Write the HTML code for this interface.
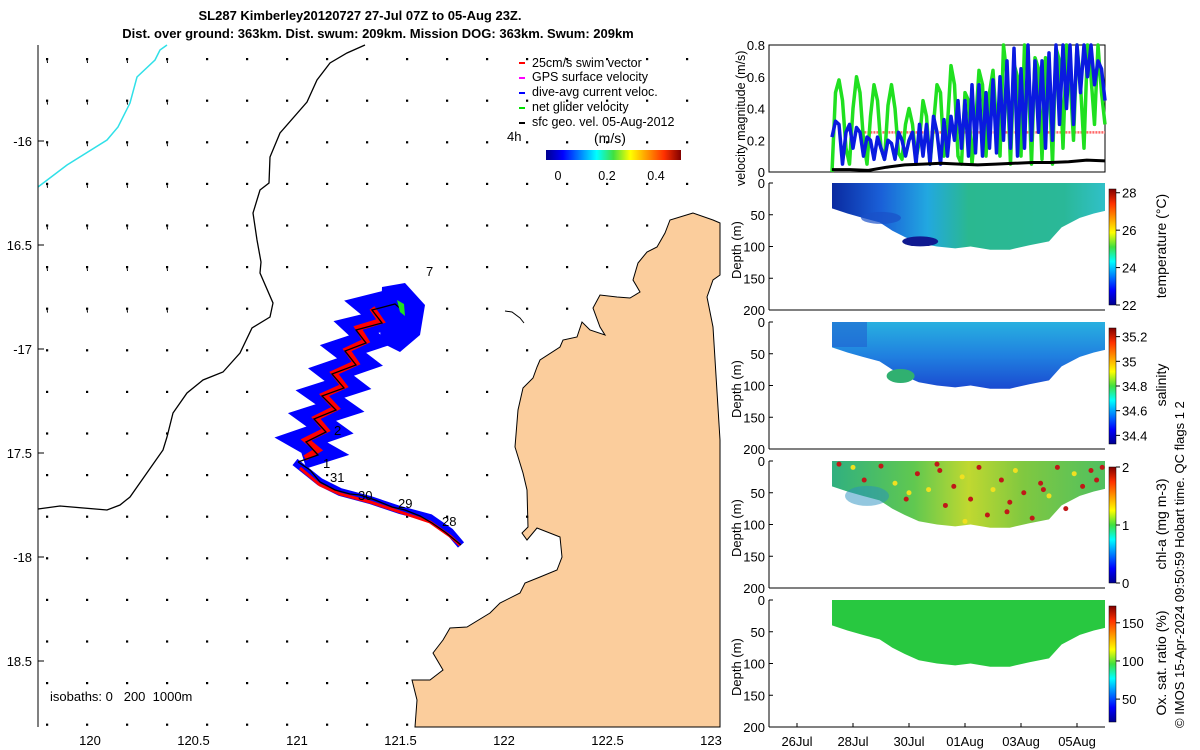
<!DOCTYPE html>
<html><head><meta charset="utf-8"><style>
body{margin:0;background:#fff;}
svg{display:block;font-family:"Liberation Sans",sans-serif;}
</style></head><body>
<svg id="s" width="1200" height="750" viewBox="0 0 1200 750">
<defs>
<linearGradient id="jetH" x1="0" x2="1" y1="0" y2="0">
<stop offset="0" stop-color="#00008f"/><stop offset="0.125" stop-color="#0000ff"/><stop offset="0.375" stop-color="#00ffff"/><stop offset="0.5" stop-color="#40e040"/><stop offset="0.625" stop-color="#ffff00"/><stop offset="0.875" stop-color="#ff3000"/><stop offset="1" stop-color="#800000"/></linearGradient>
<linearGradient id="jetV" x1="0" x2="0" y1="1" y2="0">
<stop offset="0" stop-color="#00008f"/><stop offset="0.125" stop-color="#0000ff"/><stop offset="0.375" stop-color="#00ffff"/><stop offset="0.5" stop-color="#40e040"/><stop offset="0.625" stop-color="#ffff00"/><stop offset="0.875" stop-color="#ff3000"/><stop offset="1" stop-color="#800000"/></linearGradient>
<linearGradient id="tempG" x1="832" x2="1105" y1="0" y2="0" gradientUnits="userSpaceOnUse">
<stop offset="0" stop-color="#0a2aa0"/><stop offset="0.18" stop-color="#1a60d8"/><stop offset="0.35" stop-color="#22a8e0"/><stop offset="0.5" stop-color="#2ab890"/><stop offset="0.85" stop-color="#2ab898"/><stop offset="1" stop-color="#30c0c8"/></linearGradient>
<linearGradient id="salG" x1="0" x2="0" y1="322" y2="390" gradientUnits="userSpaceOnUse">
<stop offset="0" stop-color="#28b0e0"/><stop offset="0.5" stop-color="#2080e0"/><stop offset="1" stop-color="#1a48d0"/></linearGradient>
<linearGradient id="chlG" x1="832" x2="1105" y1="0" y2="0" gradientUnits="userSpaceOnUse">
<stop offset="0" stop-color="#30b080"/><stop offset="0.3" stop-color="#60c850"/><stop offset="0.5" stop-color="#c0d830"/><stop offset="0.7" stop-color="#80c840"/><stop offset="1" stop-color="#50c060"/></linearGradient>
</defs>

<text x="360" y="20" text-anchor="middle" font-size="13" font-weight="bold">SL287 Kimberley20120727 27-Jul 07Z to 05-Aug 23Z.</text>
<text x="378" y="38" text-anchor="middle" font-size="13" font-weight="bold">Dist. over ground: 363km. Dist. swum: 209km. Mission DOG: 363km. Swum: 209km</text>

<g id="map">
<path id="land" fill="#fbcd9c" stroke="#000" stroke-width="1" d="M693,213 L670,220 L665,233 L657,247 L647,252 L638,263 L633,280 L640,292 L630,298 L617,297 L600,295 L593,308 L600,327 L605,335 L590,330 L582,322 L577,337 L563,340 L560,347 L540,360 L537,367 L533,378 L523,388 L518,410 L515,447 L523,473 L527,490 L528,527 L522,533 L527,540 L537,528 L560,537 L562,557 L557,570 L540,577 L525,583 L520,593 L500,603 L490,613 L467,627 L450,628 L443,640 L433,653 L443,670 L430,680 L412,680 L417,700 L415,727 L720,727 L720,440 L713,327 L707,297 L713,280 L720,275 L720,223 L713,220 Z"/>
<path d="M505,311 L512,312 L520,318 L524,323" stroke="#000" fill="none"/>
<polyline fill="none" stroke="#000" stroke-width="1.3" points="365,45 347,53 330,63 317,80 307,102 280,133 270,157 269,183 260,190 253,213 257,240 261,262 260,273 273,303 270,317 252,328 240,353 223,372 203,380 187,393 173,413 167,437 163,450 130,497 120,505 107,510 60,506 38,509"/>
<polyline fill="none" stroke="#30e0e8" stroke-width="1.5" points="167,45 160,50 155,60 137,77 130,103 118,127 107,140 67,165 38,187"/>
<g id="quiver"></g>
<g>
<polygon fill="#0000ff" points="382,287 405,283 425,305 420,335 400,352 380,342"/>
<polyline fill="none" stroke="#0000ff" stroke-width="22" stroke-linejoin="miter" stroke-miterlimit="3" points="303,458 322,452 301,440 330,430 312,417 340,408 320,394 348,385 331,372 360,362 343,349 370,340 356,327 385,320 368,306 392,300"/>
<polyline fill="none" stroke="#0000ff" stroke-width="8" points="295,462 320,482 340,492 370,500 400,510 430,518 450,532 461,545"/>
<polyline fill="none" stroke="#ff0000" stroke-width="6" points="305,458 318,450 306,440 326,430 316,418 336,408 324,395 344,386 334,373 356,363 347,350 366,341 358,328 381,321 372,308"/>
<polyline fill="none" stroke="#ff0000" stroke-width="3" points="300,468 320,485 340,494 370,502 400,512 430,522 450,536 460,545"/>
<polyline fill="none" stroke="#000" stroke-width="1.3" points="298,462 318,455 306,442 326,432 314,419 336,410 322,396 344,388 332,374 356,365 345,351 366,343 356,330 382,323 372,310 395,304 402,310"/>
<polyline fill="none" stroke="#000" stroke-width="1.3" points="298,462 310,470 320,482 335,490 350,494 360,495 375,500 392,507 405,510 420,516 432,523 445,532 461,545"/>
<polygon fill="#20e020" points="397,300 404,304 405,316 400,312"/>
</g>
<g font-size="13">
<text x="426" y="276">7</text><text x="334" y="435">2</text><text x="323" y="468">1</text><text x="330" y="482">31</text><text x="358" y="500">30</text><text x="398" y="508">29</text><text x="442" y="526">28</text>
<text x="507" y="141">4h</text>
</g>
<g font-size="12.5">
<line x1="519" y1="63" x2="525" y2="63" stroke="#ff0000" stroke-width="2"/><text x="532" y="67">25cm/s swim vector</text>
<line x1="519" y1="78" x2="525" y2="78" stroke="#ff00ff" stroke-width="2"/><text x="532" y="81">GPS surface velocity</text>
<line x1="519" y1="93" x2="525" y2="93" stroke="#0000ff" stroke-width="2"/><text x="532" y="96">dive-avg current veloc.</text>
<line x1="519" y1="108" x2="525" y2="108" stroke="#00e000" stroke-width="2"/><text x="532" y="111">net glider velocity</text>
<line x1="519" y1="123" x2="525" y2="123" stroke="#000" stroke-width="2"/><text x="532" y="126">sfc geo. vel. 05-Aug-2012</text>
<text x="594" y="143" font-size="14">(m/s)</text>
<rect x="546" y="150" width="135" height="10" fill="url(#jetH)"/>
<text x="558" y="180" text-anchor="middle">0</text><text x="607" y="180" text-anchor="middle">0.2</text><text x="656" y="180" text-anchor="middle">0.4</text>
</g>
<text x="50" y="701" font-size="13" style="white-space:pre">isobaths: 0   200  1000m</text>
<line x1="38" y1="45" x2="38" y2="727" stroke="#000"/>
<g id="mapticks" font-size="13"></g>
</g>

<g id="right"></g>
<text transform="translate(1184,728) rotate(-90)" font-size="13">© IMOS 15-Apr-2024 09:50:59 Hobart time. QC flags 1  2</text>
</svg>
<script>
const NS='http://www.w3.org/2000/svg';
function mk(p,t,a){const e=document.createElementNS(NS,t);for(const k in a)e.setAttribute(k,a[k]);p.appendChild(e);return e;}
// ---- map ticks
const lonTicks=[120,120.5,121,121.5,122,122.5,123];
const latTicks=[-16,-16.5,-17,-17.5,-18,-18.5];
const latLabels=['-16','16.5','-17','17.5','-18','18.5'];
const lonX=v=>90+(v-120)*207, latY=v=>141+(-16-v)*208;
const mt=document.getElementById('mapticks');
lonTicks.forEach(v=>{const t=mk(mt,'text',{x:lonX(v),y:745,'text-anchor':'middle'});t.textContent=String(v);

});
latTicks.forEach((v,i)=>{mk(mt,'line',{x1:38,x2:44,y1:latY(v),y2:latY(v),stroke:'#000'});const t=mk(mt,'text',{x:32,y:latY(v)+5,'text-anchor':'end'});t.textContent=latLabels[i];

});
// quiver grid
const land=document.getElementById('land'),q=document.getElementById('quiver');
for(let r=0;r<17;r++)for(let c=0;c<17;c++){const x=47+c*40,y=59+r*41.6;
 if(land.isPointInFill&&land.isPointInFill(new DOMPoint(x,y)))continue;
 if(x>285&&x<430&&y>280&&y<470)continue;
 const d=mk(q,'rect',{x:x-1,y:y-1,width:2.2,height:2.2,fill:'#000'});
 
 
 if(c<4&&r<7){mk(q,'line',{x1:x,y1:y,x2:x+0.5,y2:y+4,stroke:'#000','stroke-width':1});}
}
// ---- right panels
const R=document.getElementById('right');
const X0=769,X1=1105;
const dayX=d=>797+d*28;
const dateTicks=[0,2,4,6,8,10];
const dateLabels=['26Jul','28Jul','30Jul','01Aug','03Aug','05Aug'];
const tStart=1.25,tEnd=11.0;
const green=[0.0,0.5,0.58,0.45,0.15,0.05,0.4,0.6,0.5,0.2,0.05,0.35,0.55,0.45,0.15,0.08,0.42,0.55,0.4,0.12,0.08,0.3,0.4,0.3,0.08,0.2,0.45,0.35,0.05,0.3,0.55,0.5,0.1,0.3,0.67,0.55,0.1,0.05,0.5,0.45,0.05,0.3,0.64,0.55,0.1,0.5,0.64,0.3,0.1,0.8,0.6,0.05,0.68,0.6,0.1,0.8,0.65,0.05,0.72,0.65,0.08,0.72,0.6,0.05,0.78,0.7,0.15,0.8,0.6,0.2,0.8,0.55,0.15,0.8,0.6,0.3,0.8,0.5,0.3];
const blue=[0.22,0.32,0.3,0.05,0.25,0.3,0.15,0.28,0.25,0.1,0.22,0.2,0.08,0.22,0.15,0.08,0.2,0.18,0.08,0.25,0.2,0.1,0.2,0.25,0.05,0.3,0.1,0.3,0.05,0.35,0.25,0.05,0.33,0.1,0.35,0.2,0.45,0.15,0.45,0.1,0.55,0.12,0.55,0.1,0.5,0.15,0.58,0.12,0.6,0.2,0.7,0.15,0.78,0.1,0.65,0.15,0.8,0.2,0.7,0.25,0.7,0.15,0.75,0.2,0.8,0.3,0.8,0.4,0.8,0.3,0.8,0.5,0.8,0.6,0.8,0.55,0.7,0.65,0.45];
const geo=[0.015,0.015,0.01,0.03,0.045,0.05,0.055,0.05,0.045,0.05,0.055,0.06,0.06,0.065,0.075,0.07];
const swim=0.25;
const velTicks=[0,0.2,0.4,0.6,0.8];
const vy=v=>172-v*(127/0.8);
const tAt=(i,n)=>tStart+i*(tEnd-tStart)/(n-1);
mk(R,'rect',{x:X0,y:45,width:X1-X0,height:127,fill:'none',stroke:'#000'});
velTicks.forEach(v=>{const t=mk(R,'text',{x:X0-4,y:vy(v)+5,'text-anchor':'end','font-size':13});t.textContent=String(v);

});
const vl=mk(R,'text',{transform:'translate(745,186) rotate(-90)','font-size':12.5});vl.textContent='velocity magnitude (m/s)';


const swl=mk(R,'line',{x1:dayX(2.3),x2:X1,y1:vy(swim),y2:vy(swim),stroke:'#ff4040','stroke-width':2.5,'stroke-dasharray':'2,1',opacity:0.8});


function series(arr,color,w,name){const pts=arr.map((v,i)=>dayX(tAt(i,arr.length)).toFixed(1)+','+vy(v).toFixed(1)).join(' ');
 const p=mk(R,'polyline',{points:pts,fill:'none',stroke:color,'stroke-width':w,'stroke-linejoin':'round'});
 
 }
series(green,'#20e020',3.5,'net-glider-velocity-line');
series(blue,'#0a1ae0',3.5,'dive-avg-current-line');
series(geo,'#000',3,'geostrophic-velocity-line');
const secTimes=[1.25,1.8,2.35,2.95,3.4,3.85,4.35,5.0,5.65,6.2,6.9,7.6,8.3,9.0,9.45,10.1,10.6,11.0];
const secDepth=[40,48,55,62,75,85,95,100,103,100,105,105,98,92,70,55,48,44];
const depthTicks=[0,50,100,150,200];
const panels=[
 {top:183,fill:'url(#tempG)',ticks:[22,24,26,28],lo:22,hi:28.2,label:'temperature (°C)',name:'temperature'},
 {top:322,fill:'url(#salG)',ticks:[34.4,34.6,34.8,35,35.2],lo:34.33,hi:35.27,label:'salinity',name:'salinity'},
 {top:461,fill:'url(#chlG)',ticks:[0,1,2],lo:0,hi:2,label:'chl-a (mg m-3)',name:'chlorophyll'},
 {top:600,fill:'#28c840',ticks:[50,100,150],lo:20,hi:172,label:'Ox. sat. ratio (%)',name:'oxygen'}];
panels.forEach(P=>{
 const dy=d=>P.top+d*0.635;
 mk(R,'line',{x1:X0,x2:X0,y1:P.top,y2:P.top+127,stroke:'#000'});
 mk(R,'line',{x1:X0,x2:X1,y1:P.top+127,y2:P.top+127,stroke:'#000'});
 depthTicks.forEach(d=>{mk(R,'line',{x1:X0,x2:X0+4,y1:dy(d),y2:dy(d),stroke:'#000'});
  const t=mk(R,'text',{x:X0-4,y:dy(d)+5,'text-anchor':'end','font-size':13});t.textContent=String(d);
  
  });
 const dl=mk(R,'text',{transform:`translate(741,${P.top+96}) rotate(-90)`,'font-size':13});dl.textContent='Depth (m)';
 
 
 let pts=dayX(secTimes[0])+','+dy(0)+' '+dayX(secTimes[secTimes.length-1])+','+dy(0);
 for(let i=secTimes.length-1;i>=0;i--)pts+=' '+dayX(secTimes[i]).toFixed(1)+','+dy(secDepth[i]).toFixed(1);
 const sec=mk(R,'polygon',{points:pts,fill:P.fill});
 
 
 const cb=mk(R,'rect',{x:1109,y:P.top+6,width:7,height:116,fill:'url(#jetV)',stroke:'#000','stroke-width':0.5});
 
 
 const cy=v=>P.top+122-(v-P.lo)/(P.hi-P.lo)*116;
 P.ticks.forEach(v=>{mk(R,'line',{x1:1116,x2:1120,y1:cy(v),y2:cy(v),stroke:'#000'});
  const t=mk(R,'text',{x:1122,y:cy(v)+5,'font-size':13});t.textContent=String(v);
  
  });
 const cl=mk(R,'text',{transform:`translate(1166,${P.top+63}) rotate(-90)`,'font-size':14,'text-anchor':'middle'});cl.textContent=P.label;
 
 
 P.dy=dy;
});
const tdy=panels[0].dy,sdy=panels[1].dy,cdy=panels[2].dy;
mk(R,'ellipse',{cx:dayX(4.4),cy:tdy(92),rx:18,ry:5,fill:'#101a90'});
mk(R,'ellipse',{cx:dayX(3.0),cy:tdy(55),rx:20,ry:6,fill:'#1a50c8',opacity:0.7});
mk(R,'ellipse',{cx:dayX(3.7),cy:sdy(85),rx:14,ry:7,fill:'#30b070'});
mk(R,'rect',{x:dayX(1.25),y:sdy(0),width:dayX(2.5)-dayX(1.25),height:25,fill:'#2060d0',opacity:0.6});
mk(R,'ellipse',{cx:dayX(2.5),cy:cdy(55),rx:22,ry:10,fill:'#2890c0',opacity:0.5});
const chlT=[1.5,2.0,2.4,3.0,3.5,3.9,4.3,4.7,5.1,5.3,5.6,5.9,6.2,6.5,6.8,7.0,7.3,7.6,7.8,8.1,8.4,8.7,9.0,9.3,9.6,9.9,10.2,10.5,10.7,10.9,6.0,7.5,8.8,5.0,4.0];
const chlD=[5,10,30,8,35,60,20,45,15,70,40,25,60,10,85,45,30,65,15,50,90,35,55,10,75,20,40,15,30,10,95,80,45,5,50];
const chlV=[1.8,1.4,2,1.9,1.5,2,1.9,1.4,2,1.9,2,1.5,2,1.9,2,1.4,2,2,1.5,2,1.9,2,1.5,2,2,1.4,2,2,1.9,2,1.5,2,2,1.9,1.5];
chlT.forEach((t,i)=>{const c=chlV[i]>=1.8?'#c01818':'#f0e020';
 const d=mk(R,'circle',{cx:dayX(t),cy:cdy(chlD[i]),r:2.5,fill:c});
 
 });
dateTicks.forEach((d,i)=>{mk(R,'line',{x1:dayX(d),x2:dayX(d),y1:727,y2:723,stroke:'#000'});
 const t=mk(R,'text',{x:dayX(d),y:746,'text-anchor':'middle','font-size':13});t.textContent=dateLabels[i];
 
 });
</script>
</body></html>
